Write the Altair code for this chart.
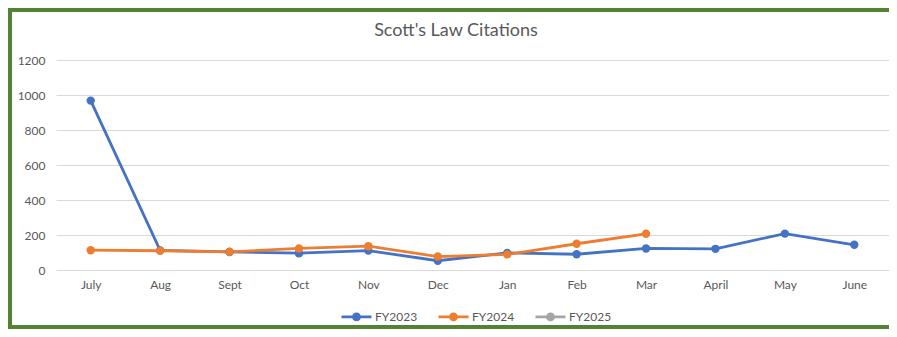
import altair as alt
import pandas as pd

months = ["July", "Aug", "Sept", "Oct", "Nov", "Dec", "Jan", "Feb", "Mar", "April", "May", "June"]
series = ["FY2023", "FY2024", "FY2025"]
colors = ["#4472C4", "#ED7D31", "#A5A5A5"]
fy2023 = [968, 112, 103, 96, 111, 53, 98, 90, 123, 121, 208, 144]
fy2024 = [113, 110, 104, 123, 136, 77, 89, 150, 207]
fy2025 = []
y_ticks = [0, 200, 400, 600, 800, 1000, 1200]
title_text = "Scott's Law Citations"

rows = []
for name, vals in zip(series, [fy2023, fy2024, fy2025]):
    for m, v in zip(months, vals):
        rows.append({"Month": m, "Series": name, "Citations": v})
df = pd.DataFrame(rows)

FONT = "Lato"
GRAY = "#595959"
legend_symbol = "M-1,0H1M0.2,0A0.2,0.2,0,1,1,-0.2,0A0.2,0.2,0,1,1,0.2,0Z"

lines = alt.Chart(df).mark_line(
    strokeWidth=2.8,
    point=alt.OverlayMarkDef(filled=True, size=70, opacity=1),
).encode(
    x=alt.X("Month:N", sort=months,
            scale=alt.Scale(domain=months, padding=0.5),
            axis=alt.Axis(title=None, labelAngle=0, domain=False, ticks=False,
                          grid=False, labelPadding=9, labelFontSize=12,
                          labelColor=GRAY, labelFont=FONT)),
    y=alt.Y("Citations:Q",
            scale=alt.Scale(domain=[0, 1200], nice=False),
            axis=alt.Axis(title=None, values=y_ticks, format="d", domain=False, ticks=False,
                          gridColor="#D9D9D9", gridWidth=1, labelPadding=11,
                          labelFontSize=12, labelColor=GRAY, labelFont=FONT)),
    color=alt.Color("Series:N",
                    scale=alt.Scale(domain=series, range=colors),
                    legend=alt.Legend(title=None, orient="none", direction="horizontal",
                                      legendX=284, legendY=240,
                                      symbolType=legend_symbol, symbolSize=900,
                                      symbolStrokeWidth=2.8,
                                      labelFontSize=12, labelColor=GRAY, labelFont=FONT,
                                      labelOffset=2, columnPadding=14, symbolOffset=0)),
)

title = alt.Chart(pd.DataFrame({"t": [title_text]})).mark_text(
    font=FONT, fontSize=18, color=GRAY, align="center", baseline="alphabetic"
).encode(
    text="t:N", x=alt.value(400), y=alt.value(-24),
)

frame = alt.Chart(pd.DataFrame({"f": [0]})).mark_rect(
    filled=False, stroke="#548235", strokeWidth=4
).encode(
    x=alt.value(-46), x2=alt.value(900),
    y=alt.value(-50), y2=alt.value(267),
)

chart = alt.layer(frame, title, lines).properties(
    width=833, height=210,
    padding={"left": 48, "top": 52, "right": 0, "bottom": 59},
    autosize=alt.AutoSizeParams(type="none"),
    background="white",
).configure_view(stroke=None)

chart.save("out.html", embed_options={"renderer": "svg", "actions": False})
